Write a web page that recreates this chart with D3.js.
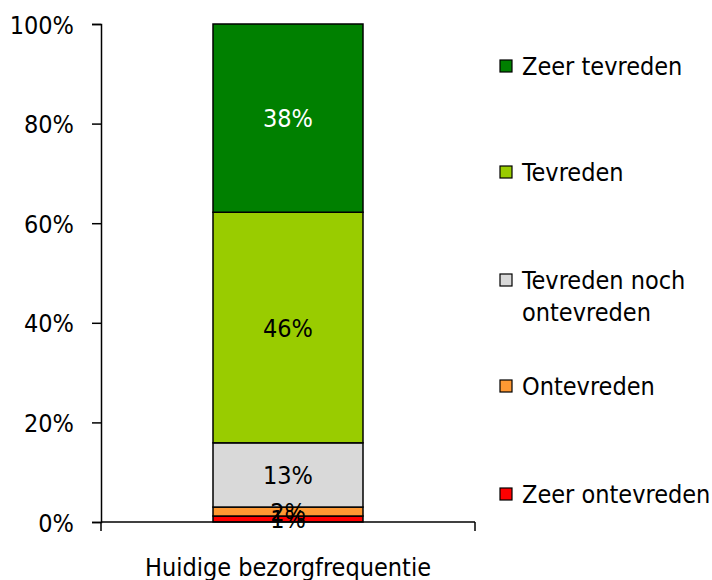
<!DOCTYPE html>
<html><head><meta charset="utf-8">
<script src="https://cdn.jsdelivr.net/npm/d3@7"></script>
<style>
html,body{margin:0;padding:0;background:#fff;}
text{font-family:"DejaVu Sans Condensed","DejaVu Sans",sans-serif;font-stretch:condensed;}
</style></head>
<body>
<svg id="chart" width="712" height="580"></svg>
<script>
const categories = ["Huidige bezorgfrequentie"];
const seriesNames = ["Zeer ontevreden","Ontevreden","Tevreden noch ontevreden","Tevreden","Zeer tevreden"];
const seriesValues = [1.2, 1.8, 12.9, 46.3, 37.8];
const seriesLabels = ["1%","2%","13%","46%","38%"];
const seriesColors = ["#FF0000","#FF9933","#D9D9D9","#99CC00","#008000"];
const labelColors = ["#000","#000","#000","#000","#fff"];
const yTicks = [0,20,40,60,80,100];

const svg = d3.select("#chart");
const fs = 25;
const FF = "DejaVu Sans Condensed";
const y = d3.scaleLinear().domain([0,100]).range([522,24]);
const x = d3.scaleBand().domain(categories).range([101,475]).paddingInner(0.4275).paddingOuter(0.4275);

const row = {cat: categories[0]};
seriesNames.forEach((s,i)=>row[s]=seriesValues[i]);
const stack = d3.stack().keys(seriesNames)([row]);

const g = svg.append("g");
stack.forEach((layer,i)=>{
  const d = layer[0];
  g.append("rect")
    .attr("x", x(d.data.cat))
    .attr("width", x.bandwidth())
    .attr("y", y(d[1]))
    .attr("height", y(d[0]) - y(d[1]))
    .attr("fill", seriesColors[i])
    .attr("stroke", "#000")
    .attr("stroke-width", 1.5);
});
stack.forEach((layer,i)=>{
  const d = layer[0];
  g.append("text")
    .attr("x", x(d.data.cat) + x.bandwidth()/2)
    .attr("y", (y(d[0]) + y(d[1]))/2)
    .attr("dy","0.36em")
    .attr("text-anchor","middle")
    .attr("font-size", fs)
    .attr("fill", labelColors[i])
    .text(seriesLabels[i]);
});

const yAxis = svg.append("g").attr("transform","translate(101,0)")
  .call(d3.axisLeft(y).tickValues(yTicks).tickSize(9).tickPadding(18).tickFormat(d=>d+"%"));
yAxis.selectAll("text").attr("font-size", fs).attr("fill","#000").attr("font-family",FF).attr("dy","0.36em");
yAxis.selectAll("line,path").attr("stroke","#000").attr("stroke-width",1.5);

const xAxis = svg.append("g").attr("transform","translate(0,522)")
  .call(d3.axisBottom(x).tickSize(0).tickPadding(0));
xAxis.select(".domain").remove();
xAxis.append("line").attr("x1", x.range()[0]).attr("x2", x.range()[1]).attr("y1",0).attr("y2",0)
  .attr("stroke","#000").attr("stroke-width",1.5);
x.range().forEach(v=>{
  xAxis.append("line").attr("x1",v).attr("x2",v).attr("y1",0).attr("y2",9).attr("stroke","#000").attr("stroke-width",1.5);
});
xAxis.selectAll(".tick text").attr("font-size", fs).attr("fill","#000").attr("font-family",FF)
  .attr("y",54).attr("dy",null);

const legendY = [66,172,280,386,494];
const legendLines = [["Zeer tevreden"],["Tevreden"],["Tevreden noch","ontevreden"],["Ontevreden"],["Zeer ontevreden"]];
const order = seriesNames.slice().reverse();
order.forEach((s,k)=>{
  const i = seriesNames.indexOf(s);
  const lg = svg.append("g").attr("transform",`translate(500,${legendY[k]})`);
  lg.append("rect").attr("x",0).attr("y",-6).attr("width",12).attr("height",12)
    .attr("fill",seriesColors[i]).attr("stroke","#000").attr("stroke-width",1.2);
  legendLines[k].forEach((t,j)=>{
    lg.append("text").attr("x",22).attr("y",j*32).attr("dy","0.36em")
      .attr("font-size",fs).attr("fill","#000").text(t);
  });
});
</script>
</body></html>
